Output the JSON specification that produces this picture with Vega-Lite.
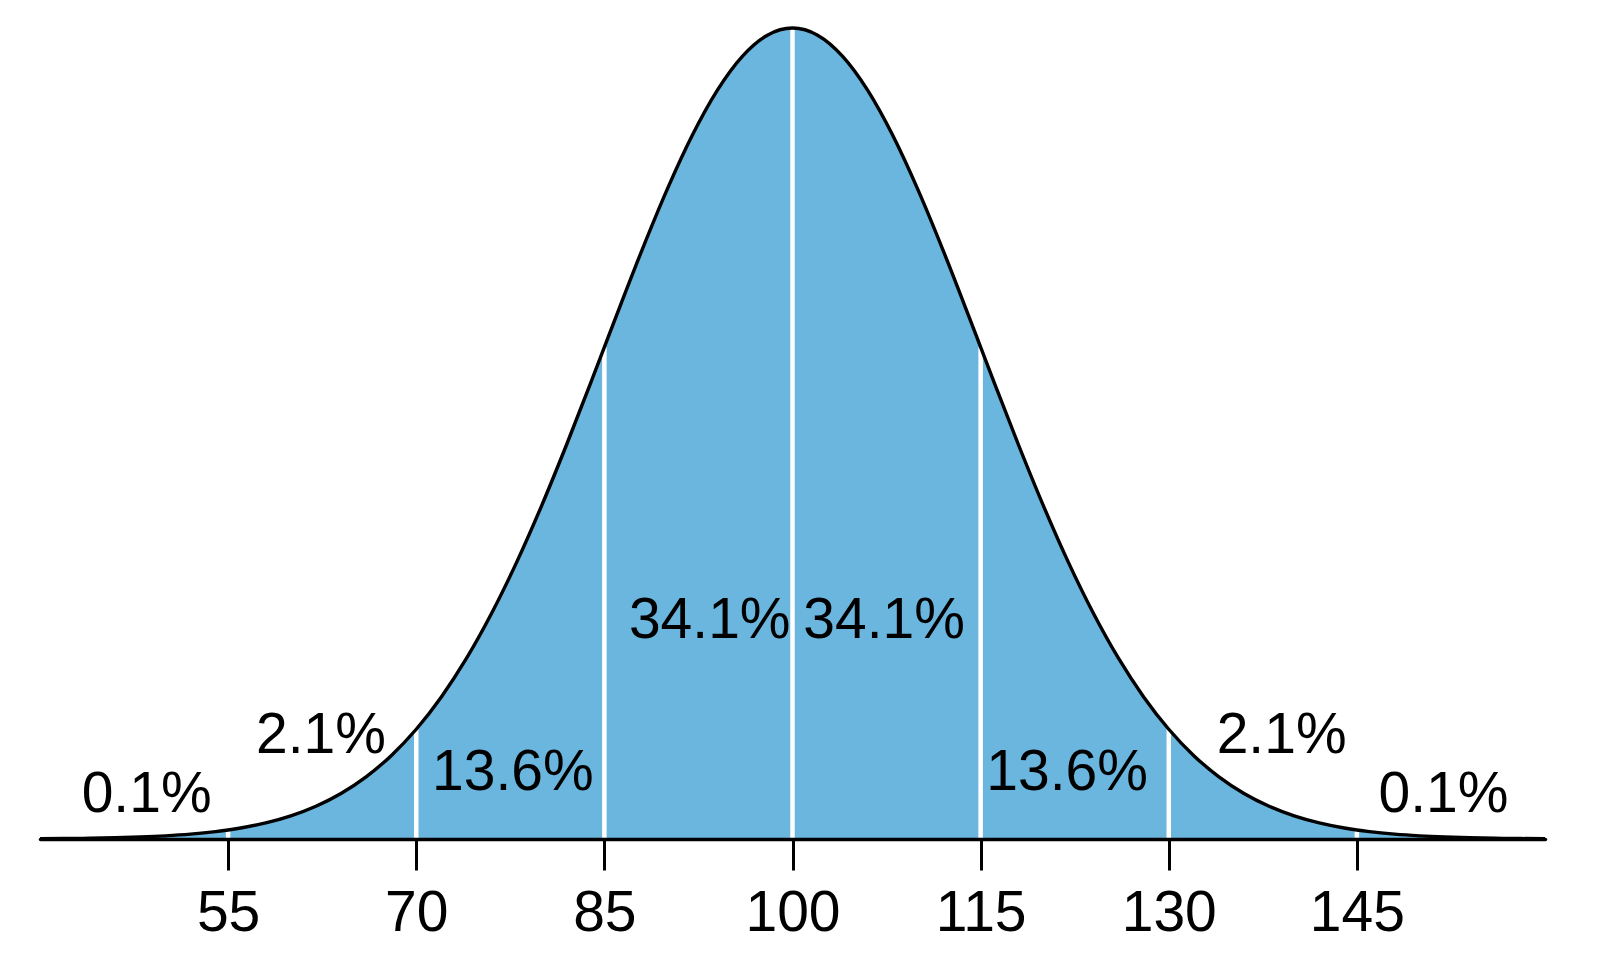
{
  "$schema": "https://vega.github.io/schema/vega-lite/v6.json",
  "width": 1505,
  "height": 839,
  "autosize": {"type": "none"},
  "padding": {"left": 40, "top": 0, "right": 55, "bottom": 124},
  "background": "white",
  "config": {
    "view": {"stroke": null},
    "font": "Liberation Sans"
  },
  "datasets": {
    "curve": [
      {"x": 40, "d": 0.00000892}, {"x": 42, "d": 0.0000151}, {"x": 44, "d": 0.0000250}, {"x": 46, "d": 0.0000408},
      {"x": 48, "d": 0.0000653}, {"x": 50, "d": 0.000103}, {"x": 52, "d": 0.000159}, {"x": 54, "d": 0.000241},
      {"x": 55, "d": 0.000295}, {"x": 56, "d": 0.000360}, {"x": 58, "d": 0.000528}, {"x": 60, "d": 0.000760},
      {"x": 62, "d": 0.001075}, {"x": 64, "d": 0.001493}, {"x": 66, "d": 0.002038}, {"x": 68, "d": 0.002733},
      {"x": 70, "d": 0.003599}, {"x": 72, "d": 0.004658}, {"x": 74, "d": 0.005921}, {"x": 76, "d": 0.007395},
      {"x": 78, "d": 0.009072}, {"x": 80, "d": 0.010934}, {"x": 82, "d": 0.012946}, {"x": 84, "d": 0.015057},
      {"x": 85, "d": 0.016131}, {"x": 86, "d": 0.017205}, {"x": 88, "d": 0.019313}, {"x": 90, "d": 0.021296},
      {"x": 92, "d": 0.023070}, {"x": 94, "d": 0.024551}, {"x": 96, "d": 0.025667}, {"x": 98, "d": 0.026361},
      {"x": 100, "d": 0.026596},
      {"x": 102, "d": 0.026361}, {"x": 104, "d": 0.025667}, {"x": 106, "d": 0.024551}, {"x": 108, "d": 0.023070},
      {"x": 110, "d": 0.021296}, {"x": 112, "d": 0.019313}, {"x": 114, "d": 0.017205}, {"x": 115, "d": 0.016131},
      {"x": 116, "d": 0.015057}, {"x": 118, "d": 0.012946}, {"x": 120, "d": 0.010934}, {"x": 122, "d": 0.009072},
      {"x": 124, "d": 0.007395}, {"x": 126, "d": 0.005921}, {"x": 128, "d": 0.004658}, {"x": 130, "d": 0.003599},
      {"x": 132, "d": 0.002733}, {"x": 134, "d": 0.002038}, {"x": 136, "d": 0.001493}, {"x": 138, "d": 0.001075},
      {"x": 140, "d": 0.000760}, {"x": 142, "d": 0.000528}, {"x": 144, "d": 0.000360}, {"x": 145, "d": 0.000295},
      {"x": 146, "d": 0.000241}, {"x": 148, "d": 0.000159}, {"x": 150, "d": 0.000103}, {"x": 152, "d": 0.0000653},
      {"x": 154, "d": 0.0000408}, {"x": 156, "d": 0.0000250}, {"x": 158, "d": 0.0000151}, {"x": 160, "d": 0.00000892}
    ],
    "sd": [
      {"x": 55, "d": 0.000295}, {"x": 70, "d": 0.003599}, {"x": 85, "d": 0.016131}, {"x": 100, "d": 0.026596},
      {"x": 115, "d": 0.016131}, {"x": 130, "d": 0.003599}, {"x": 145, "d": 0.000295}
    ],
    "labels": [
      {"x": 48.5, "y": 0.000895, "label": "0.1%"},
      {"x": 62.4, "y": 0.00282, "label": "2.1%"},
      {"x": 77.7, "y": 0.00161, "label": "13.6%"},
      {"x": 93.4, "y": 0.00658, "label": "34.1%"},
      {"x": 107.3, "y": 0.00658, "label": "34.1%"},
      {"x": 121.9, "y": 0.00161, "label": "13.6%"},
      {"x": 139.0, "y": 0.00282, "label": "2.1%"},
      {"x": 151.9, "y": 0.000895, "label": "0.1%"}
    ]
  },
  "encoding": {
    "x": {
      "field": "x",
      "type": "quantitative",
      "scale": {"domain": [40, 160], "nice": false, "zero": false},
      "axis": {
        "values": [55, 70, 85, 100, 115, 130, 145],
        "title": null,
        "grid": false,
        "zindex": 2,
        "domainColor": "black",
        "domainWidth": 3.5,
        "domainCap": "round",
        "tickColor": "black",
        "tickWidth": 3,
        "tickSize": 31,
        "labelFontSize": 57,
        "labelColor": "black",
        "labelFont": "Liberation Sans",
        "labelPadding": 15
      }
    }
  },
  "layer": [
    {
      "data": {"name": "curve"},
      "mark": {"type": "area", "color": "#6BB6DE", "interpolate": "monotone"},
      "encoding": {
        "y": {"field": "d", "type": "quantitative", "scale": {"domain": [0, 0.027515], "nice": false}, "axis": null}
      }
    },
    {
      "data": {"name": "sd"},
      "mark": {"type": "rule", "color": "white", "strokeWidth": 4.5},
      "encoding": {
        "y": {"field": "d", "type": "quantitative", "axis": null},
        "y2": {"datum": 0}
      }
    },
    {
      "data": {"name": "curve"},
      "mark": {"type": "line", "color": "black", "strokeWidth": 3.4, "interpolate": "monotone"},
      "encoding": {
        "y": {"field": "d", "type": "quantitative", "axis": null}
      }
    },
    {
      "data": {"name": "labels"},
      "mark": {"type": "text", "fontSize": 57, "font": "Liberation Sans", "align": "center", "baseline": "alphabetic", "color": "black"},
      "encoding": {
        "y": {"field": "y", "type": "quantitative", "axis": null},
        "text": {"field": "label"}
      }
    }
  ]
}
